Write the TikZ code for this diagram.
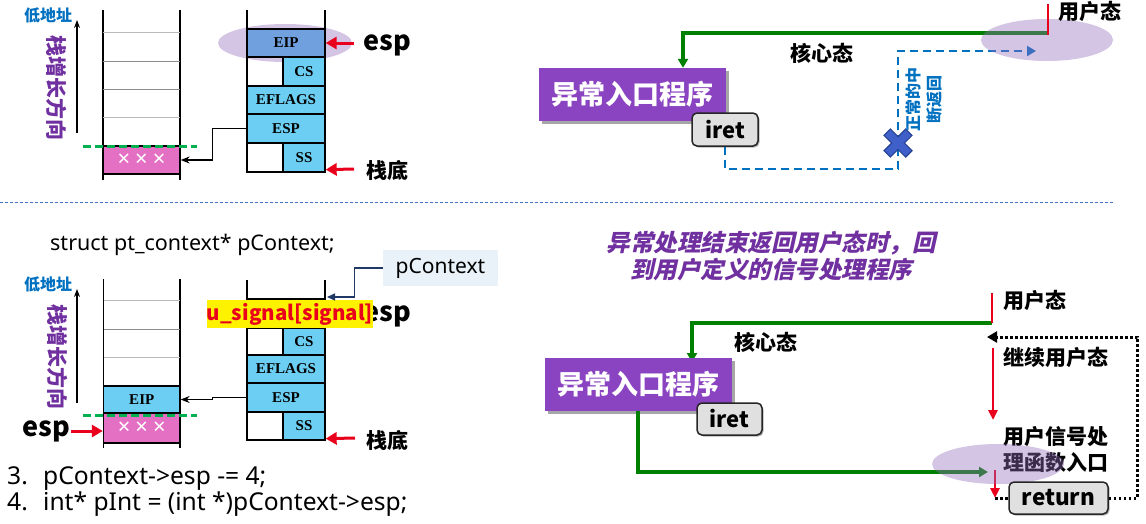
\documentclass[tikz,border=0pt]{standalone}
\usepackage{fontspec}
\setmainfont{Noto Sans}
\newfontfamily\cjk{Noto Sans CJK SC}
\newfontfamily\cjksl[FakeSlant=0.22]{Noto Sans CJK SC}
\newfontfamily\tnr{Liberation Serif}
\usetikzlibrary{arrows.meta,shadows,calc}
\newcommand\fsz[1]{\fontsize{#1}{#1}\selectfont}
\newcommand\fszl[2]{\fontsize{#1}{#2}\selectfont}
\definecolor{cyanb}{RGB}{108,206,242}
\definecolor{eipc}{RGB}{112,160,222}
\definecolor{pinkb}{RGB}{228,112,196}
\definecolor{purb}{RGB}{139,68,193}
\definecolor{ellc}{RGB}{150,110,190}
\definecolor{gdash}{RGB}{0,176,80}
\definecolor{bluet}{RGB}{0,112,192}
\definecolor{purt}{RGB}{112,48,160}
\definecolor{redc}{RGB}{232,0,28}
\definecolor{grn}{RGB}{0,128,0}
\definecolor{xfill}{RGB}{62,96,200}
\definecolor{xline}{RGB}{40,66,150}
\definecolor{pbox}{RGB}{232,242,248}
\definecolor{navy}{RGB}{31,56,100}
\definecolor{sepc}{RGB}{68,114,196}
\definecolor{btnfill}{RGB}{224,224,224}
\begin{document}
\begin{tikzpicture}[x=1pt,y=-1pt,
  wall/.style={line width=1.5pt},
  thinrule/.style={line width=0.8pt, draw=gray!55},
  darkrule/.style={line width=0.8pt, draw=gray!90},
  cell/.style={draw=black, line width=1.3pt, fill=cyanb, inner sep=0pt, font=\tnr\bfseries\fsz{15}},
  pinkcell/.style={cell, fill=pinkb, text=white, font=\fsz{22}},
  gdashed/.style={draw=gdash, line width=3pt, dash pattern=on 8pt off 4pt},
  uparr/.style={line width=1.3pt, -{Stealth[length=8pt,width=6pt]}},
  conn/.style={line width=1.2pt, -{Stealth[length=9pt,width=7pt]}},
  redarr/.style={draw=redc, line width=3pt, -{Triangle[length=11pt,width=12pt]}},
  redarrs/.style={draw=redc, line width=2.5pt, -{Triangle[length=10pt,width=9pt]}},
  redline/.style={draw=redc, line width=2.5pt},
  grnarr/.style={draw=grn, line width=3.2pt, -{Triangle[length=9pt,width=10pt]}},
  bdash/.style={draw=bluet, line width=2.8pt, dash pattern=on 8pt off 5pt, -{Triangle[length=9pt,width=10pt]}},
  dotarr/.style={draw=black, line width=3pt, dash pattern=on 2.6pt off 2.4pt, -{Triangle[length=10pt,width=11pt]}},
  dotline/.style={draw=black, line width=3pt, dash pattern=on 2.6pt off 2.4pt},
  navyarr/.style={draw=navy, line width=1.3pt, -{Triangle[length=8pt,width=7pt]}},
  cjkb/.style={font=\cjk\bfseries\fsz{21}, inner sep=1pt},
  lowaddr/.style={font=\cjk\bfseries\fsz{16}, text=bluet, inner sep=1pt},
  growdir/.style={font=\cjk\bfseries\fsz{21}, text=purt, rotate=-90, inner sep=1pt},
  esplbl/.style={font=\cjk\bfseries\fsz{27}, inner sep=1pt},
  excbox/.style={fill=purb, text=white, font=\cjk\bfseries\fsz{27}, minimum width=187, minimum height=53, inner sep=0pt,
     drop shadow={shadow xshift=3pt, shadow yshift=-3pt, opacity=0.35, fill=black}},
  btn/.style={rounded corners=5pt, fill=btnfill, draw=black!85, line width=1.5pt, inner sep=0pt, font=\cjk\bfseries\fsz{22},
     drop shadow={shadow xshift=1.5pt, shadow yshift=-1.5pt, opacity=0.3, fill=black}},
  hl/.style={fill=ellc, fill opacity=0.4},
  code/.style={font=\fsz{24.6}, inner sep=0pt}
]
\useasboundingbox (0,0) rectangle (1146,523);
\fill[white] (0,0) rectangle (1146,523);

% ================= TOP LEFT =================
\path[hl] (285,43) ellipse [x radius=67, y radius=19];
\draw[wall] (103,10) -- (103,180) (180,10) -- (180,180);
\draw[thinrule] (103,32) -- (180,32) (103,117) -- (180,117);
\draw[darkrule] (103,61) -- (180,61) (103,89) -- (180,89);
\node[pinkcell, minimum width=77, minimum height=28] (xa) at (141.5,160) {×\hspace{5pt}×\hspace{5pt}×};
\draw[gdashed] (83,146) -- (197,146);
\coordinate (uaS) at (77,133); \coordinate (uaE) at (77,20);
\draw[uparr] (uaS) -- (uaE);
\node[lowaddr] (la) at (48,15) {低地址};
\node[growdir] (ga) at (57,88) {栈增长方向};

\draw[wall] (247,10) -- (247,172) -- (325,172) -- (325,10);
\node[cell, fill=eipc, minimum width=78, minimum height=28] (eipA) at (286,43) {EIP};
\node[cell, minimum width=42, minimum height=29] (csA) at (304,71.5) {CS};
\node[cell, minimum width=78, minimum height=28] (efA) at (286,100) {EFLAGS};
\node[cell, minimum width=78, minimum height=29] (espA) at (286,128.5) {ESP};
\node[cell, minimum width=42, minimum height=29] (ssA) at (304,157.5) {SS};
\draw[conn] (espA.west) -- ++(-34,0) |- (xa.east);
\node[esplbl] (espT) at (387,45) {esp};
\coordinate (rA1) at (354,43);
\draw[redarr] (rA1) -- (eipA.east);
\node[cjkb] (dA) at (387,170) {栈底};
\coordinate (rA2) at (354,169);
\draw[redarr] (rA2) -- ([yshift=3pt]ssA.south east);

% ================= TOP RIGHT =================
\node[excbox] (exA) at (632.5,94.5) {异常入口程序};
\coordinate (gA) at (1048,33);
\draw[grnarr] (gA) -| ([xshift=50.5pt]exA.north);
\node[btn, minimum width=66, minimum height=33] (iretA) at (725,129.5) {iret};
\coordinate (bA1) at (898,169); \coordinate (bA2) at (1036,51);
\draw[bdash] (iretA.south) |- (bA1) -- (bA1 |- bA2) -- (bA2);
\begin{scope}[shift={(898,143)}, rotate=45]
  \filldraw[fill=xfill, draw=xline, line width=1.2pt]
    (-4.5,-15.3) -- (4.5,-15.3) -- (4.5,-4.5) -- (15.3,-4.5) -- (15.3,4.5) -- (4.5,4.5) -- (4.5,15.3)
    -- (-4.5,15.3) -- (-4.5,4.5) -- (-15.3,4.5) -- (-15.3,-4.5) -- (-4.5,-4.5) -- cycle;
\end{scope}
\node[font=\cjk\bfseries\fszl{16}{21}, text=bluet, rotate=90, align=center, inner sep=0pt] (vA) at (924,99) {正常的中\\断返回};
\node[cjkb] (kA) at (822,53) {核心态};
\path[hl] (1047,40) ellipse [x radius=66, y radius=21];
\coordinate (rtA) at (1048,4);
\draw[redline] (rtA) -- ([yshift=-2pt]gA);
\node[cjkb] (uA) at (1090,11) {用户态};

% separator
\draw[draw=sepc, line width=0.8pt, dash pattern=on 3pt off 2pt] (0,202) -- (1114,202);

% ================= BOTTOM LEFT =================
\node[font=\fsz{21.5}, inner sep=0pt, anchor=base west] (codeA) at (50,250) {struct pt\_context* pContext;};

\draw[wall] (103.5,279) -- (103.5,448) (180,279) -- (180,448);
\draw[thinrule] (103.5,300) -- (180,300) (103.5,357) -- (180,357);
\draw[darkrule] (103.5,329) -- (180,329);
\node[cell, minimum width=76.5, minimum height=27] (eipB) at (141.75,399.5) {EIP};
\node[pinkcell, minimum width=76.5, minimum height=30] (xb) at (141.75,428) {×\hspace{5pt}×\hspace{5pt}×};
\draw[gdashed] (83,415) -- (197,415);
\coordinate (ubS) at (77,403); \coordinate (ubE) at (77,289);
\draw[uparr] (ubS) -- (ubE);
\node[lowaddr] (lb) at (48,284) {低地址};
\node[growdir] (gb) at (58,357) {栈增长方向};
\node[esplbl] (espL) at (46,431) {esp};
\draw[redarr] (espL.east) -- (espL.east -| xb.west);

\draw[wall] (247,280) -- (247,440) -- (325,440) -- (325,280);
\node[cell, fill=white, minimum width=78, minimum height=29] (topB) at (286,313.5) {};
\node[cell, minimum width=42, minimum height=27] (csB) at (304,341.5) {CS};
\node[cell, minimum width=78, minimum height=28] (efB) at (286,369) {EFLAGS};
\node[cell, minimum width=78, minimum height=29] (espB) at (286,397.5) {ESP};
\node[cell, minimum width=42, minimum height=28] (ssB) at (304,426) {SS};
\draw[conn] (espB.west) -- ++(-34,0) |- (eipB.east);
\node[esplbl] (espR) at (387,316) {esp};
\node[fill=yellow, text=redc, font=\cjk\bfseries\fsz{20.5}, minimum width=166, minimum height=28, inner sep=0pt] (usig) at (290,314) {u\_signal[signal]};
\node[fill=pbox, font=\fsz{21}, minimum width=115, minimum height=36, inner sep=0pt] (pc) at (440.5,268) {pContext};
\coordinate (pcTip) at (327,297);
\draw[navyarr] (pc.west) -- ++(-28,0) |- (pcTip);
\node[cjkb] (dB) at (387,440) {栈底};
\coordinate (rB2) at (355,438);
\draw[redarr] (rB2) -- ([yshift=2pt]ssB.south east);

\node[code, anchor=base west] (c3) at (7,484) {\makebox[36pt][l]{3.}pContext->esp -= 4;};
\node[code, anchor=base west] (c4) at (7,510) {\makebox[36pt][l]{4.}int* pInt = (int *)pContext->esp;};

% ================= BOTTOM RIGHT =================
\node[font=\cjksl\bfseries\fszl{23.5}{27}, text=purt, align=center, inner sep=0pt] (tt) at (771,256.5) {异常处理结束返回用户态时，回\\到用户定义的信号处理程序};

\coordinate (gB) at (992,323);
\coordinate (exBin) at (692,362);
\draw[grnarr] (gB) -| (exBin);
\node[excbox] (exB) at (638,384.5) {异常入口程序};
\coordinate (gB2) at (988,472);
\draw[grnarr] (exB.south) |- (gB2);
\node[btn, minimum width=65, minimum height=32] (iretB) at (729.5,419) {iret};
\node[cjkb] (kB) at (766,342) {核心态};
\coordinate (rtB) at (992,293);
\draw[redline] (rtB) -- (gB);
\node[cjkb, anchor=west] (uB) at (1002,300) {用户态};

\coordinate (rc1) at (993,348); \coordinate (rc2) at (993,420);
\draw[redarrs] (rc1) -- (rc2);
\node[cjkb, anchor=west] (jx) at (1002,357) {继续用户态};
\node[cjkb, anchor=west, align=left, font=\cjk\bfseries\fszl{21}{26}] (entry) at (1002,450) {用户信号处\\理函数入口};
\coordinate (rs1) at (995,470); \coordinate (rs2) at (995,498);
\draw[redarrs] (rs1) -- (rs2);
\path[hl] (998,464) ellipse [x radius=66, y radius=20];
\node[btn, minimum width=99, minimum height=32, font=\cjk\bfseries\fsz{22.5}] (ret) at (1058.5,498) {return};
\coordinate (dt) at (987,337);
\draw[dotarr] (ret.east) -- ++(29,0) |- (dt);
\draw[dotline] (rs2) -- (ret.west);
\end{tikzpicture}
\end{document}
